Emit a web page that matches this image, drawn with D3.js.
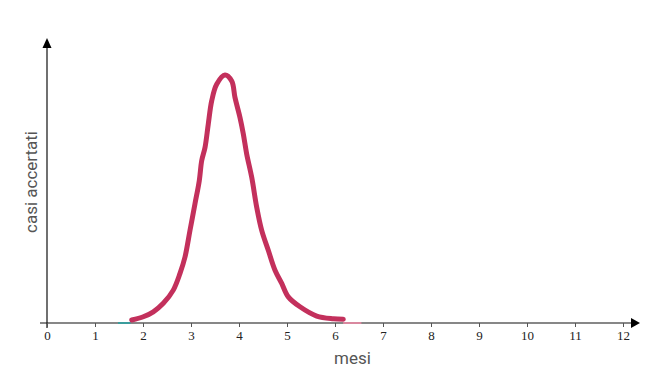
<!DOCTYPE html>
<html><head><meta charset="utf-8">
<script src="https://cdn.jsdelivr.net/npm/d3@7"></script>
<style>body{margin:0;background:#fff}svg{display:block}</style>
</head><body>
<div id="chart"></div>
<script>
const months = [1.765,2.006,2.215,2.423,2.631,2.771,2.875,2.979,3.083,3.173,3.223,3.292,3.36,3.431,3.535,3.708,3.848,3.917,4.021,4.09,4.16,4.265,4.369,4.473,4.61,4.75,4.89,5.027,5.271,5.619,5.965,6.173];
const cases = [1.2,2.5,4.5,7.9,13.2,19.9,26.5,37.2,47.9,57.2,65.2,70.5,79.9,89.2,95.9,99.6,97.2,90.5,82.5,75.9,67.9,58.5,46.5,37.2,29.2,21.2,15.9,10.5,6.5,2.8,1.7,1.5];
const tealMonths = [1.48,1.74];
const tealCases = [0,0];
const tailMonths = [6.17,6.55];
const tailCases = [0,0];
const xTicks = [0,1,2,3,4,5,6,7,8,9,10,11,12];
const xLabel = "mesi";
const yLabel = "casi accertati";

const W = 670, H = 380;
const svg = d3.select("#chart").append("svg").attr("width", W).attr("height", H);
const x = d3.scaleLinear().domain([0, 12]).range([47, 623]);
const y = d3.scaleLinear().domain([0, 100]).range([323, 74]);

// x axis line + arrow
svg.append("line").attr("x1", 40).attr("x2", 632).attr("y1", y(0)).attr("y2", y(0))
  .attr("stroke", "#111").attr("stroke-width", 1.2);
svg.append("path").attr("d", `M631,${y(0)-5} L640,${y(0)} L631,${y(0)+5} Z`).attr("fill", "#000");
// y axis line + arrow
svg.append("line").attr("x1", x(0)).attr("x2", x(0)).attr("y1", 328).attr("y2", 46)
  .attr("stroke", "#111").attr("stroke-width", 1.2);
svg.append("path").attr("d", `M${x(0)-4.5},48 L${x(0)},38 L${x(0)+4.5},48 Z`).attr("fill", "#000");

const xAxis = d3.axisBottom(x).tickValues(xTicks).tickSize(4).tickSizeOuter(0).tickFormat(d3.format("d"));
const gx = svg.append("g").attr("transform", `translate(0,${y(0)})`).call(xAxis);
gx.select(".domain").remove();
gx.selectAll(".tick line").attr("stroke", "#555").attr("stroke-width", 1);
gx.selectAll(".tick text").attr("font-family", "'Liberation Serif', 'DejaVu Serif', serif")
  .attr("font-size", 13).attr("fill", "#222").attr("dy", "0.9em").attr("y", 5);

svg.append("text").attr("x", 334).attr("y", 364).text(xLabel)
  .attr("font-family", "Roboto, 'Noto Sans', sans-serif").attr("font-size", 17).attr("fill", "#555");
svg.append("text").attr("transform", `translate(37,182) rotate(-90)`).attr("text-anchor", "middle").text(yLabel)
  .attr("font-family", "Roboto, 'Noto Sans', sans-serif").attr("font-size", 17).attr("fill", "#555");

const line = d3.line().x(d => x(d[0])).y(d => y(d[1])).curve(d3.curveCatmullRom.alpha(0.5));
svg.append("path").datum(d3.zip(tealMonths, tealCases)).attr("d", line)
  .attr("fill", "none").attr("stroke", "#3b9c9c").attr("stroke-width", 2);
svg.append("path").datum(d3.zip(tailMonths, tailCases)).attr("d", line)
  .attr("fill", "none").attr("stroke", "#d9889f").attr("stroke-width", 2);
svg.append("path").datum(d3.zip(months, cases)).attr("d", line)
  .attr("fill", "none").attr("stroke", "#c3305c").attr("stroke-width", 5)
  .attr("stroke-linecap", "round").attr("stroke-linejoin", "round");
</script>
</body></html>
